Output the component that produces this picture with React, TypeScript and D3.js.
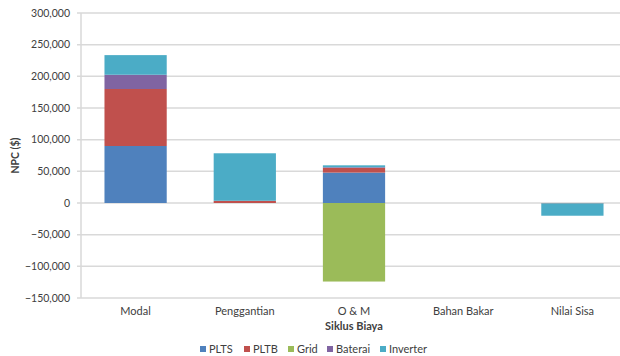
import React from "react";
import * as d3 from "d3";

const categories = ["Modal", "Penggantian", "O & M", "Bahan Bakar", "Nilai Sisa"];
const seriesNames = ["PLTS", "PLTB", "Grid", "Baterai", "Inverter"];
const PLTS = [90000, 0, 48000, 0, 0];
const PLTB = [90000, 3500, 7500, 0, -600];
const Grid = [0, 0, -124000, 0, 0];
const Baterai = [22500, 0, 1000, 0, 0];
const Inverter = [31000, 75000, 3000, 0, -19500];
const yTicks = [-150000, -100000, -50000, 0, 50000, 100000, 150000, 200000, 250000, 300000];
const colors = ["#4F81BD", "#C0504D", "#9BBB59", "#8064A2", "#4BACC6"];

const W = 620, H = 356;
const left = 81, right = 627, top = 13, bottom = 298;
const font = "Lato, 'Open Sans', sans-serif";

export default function App() {
  const seriesValues = [PLTS, PLTB, Grid, Baterai, Inverter];
  const rows = categories.map((c, i) => {
    const r: any = { cat: c };
    seriesNames.forEach((s, j) => (r[s] = seriesValues[j][i]));
    return r;
  });
  const stacked = d3.stack().keys(seriesNames).offset(d3.stackOffsetDiverging)(rows);
  const x = d3.scaleBand().domain(categories).range([left, right]).paddingInner(0.43).paddingOuter(0.215);
  const y = d3.scaleLinear().domain([-150000, 300000]).range([bottom, top]);
  const fmt = d3.format(",");
  const legendX = [200, 244, 288, 327, 380];

  return (
    <svg width={W} height={H} style={{ position: "absolute", left: 0, top: 0, background: "#fff" }}>
      {yTicks.map((t) => (
        <g key={t}>
          <line x1={left - 4} x2={W} y1={y(t)} y2={y(t)} stroke="#D9D9D9" strokeWidth={1.5} />
          <text x={70} y={y(t)} dy="0.35em" textAnchor="end" fontFamily={font} fontSize={10.5} fill="#404040">
            {fmt(t)}
          </text>
        </g>
      ))}
      <line x1={left} x2={left} y1={top} y2={bottom} stroke="#D9D9D9" strokeWidth={1.5} />
      {stacked.map((s, j) => (
        <g key={s.key} fill={colors[j]}>
          {s.map((d, i) => {
            const y0 = y(Math.max(d[0], d[1]));
            const y1 = y(Math.min(d[0], d[1]));
            if (y1 - y0 <= 0) return null;
            return (
              <rect key={i} x={x(categories[i])} width={x.bandwidth()} y={y0} height={y1 - y0} />
            );
          })}
        </g>
      ))}
      {categories.map((c) => (
        <text key={c} x={(x(c) as number) + x.bandwidth() / 2} y={315} textAnchor="middle" fontFamily={font} fontSize={11} fill="#404040">
          {c}
        </text>
      ))}
      <text x={(left + right) / 2} y={330} textAnchor="middle" fontFamily={font} fontSize={11} fontWeight="bold" fill="#404040">
        Siklus Biaya
      </text>
      <text transform={`translate(19,${(top + bottom) / 2}) rotate(-90)`} textAnchor="middle" fontFamily={font} fontSize={10.5} fontWeight="bold" fill="#404040">
        NPC ($)
      </text>
      {seriesNames.map((s, j) => (
        <g key={s}>
          <rect x={legendX[j]} y={346} width={6} height={6} fill={colors[j]} />
          <text x={legendX[j] + 9} y={352.5} fontFamily={font} fontSize={11} fill="#404040">
            {s}
          </text>
        </g>
      ))}
    </svg>
  );
}
